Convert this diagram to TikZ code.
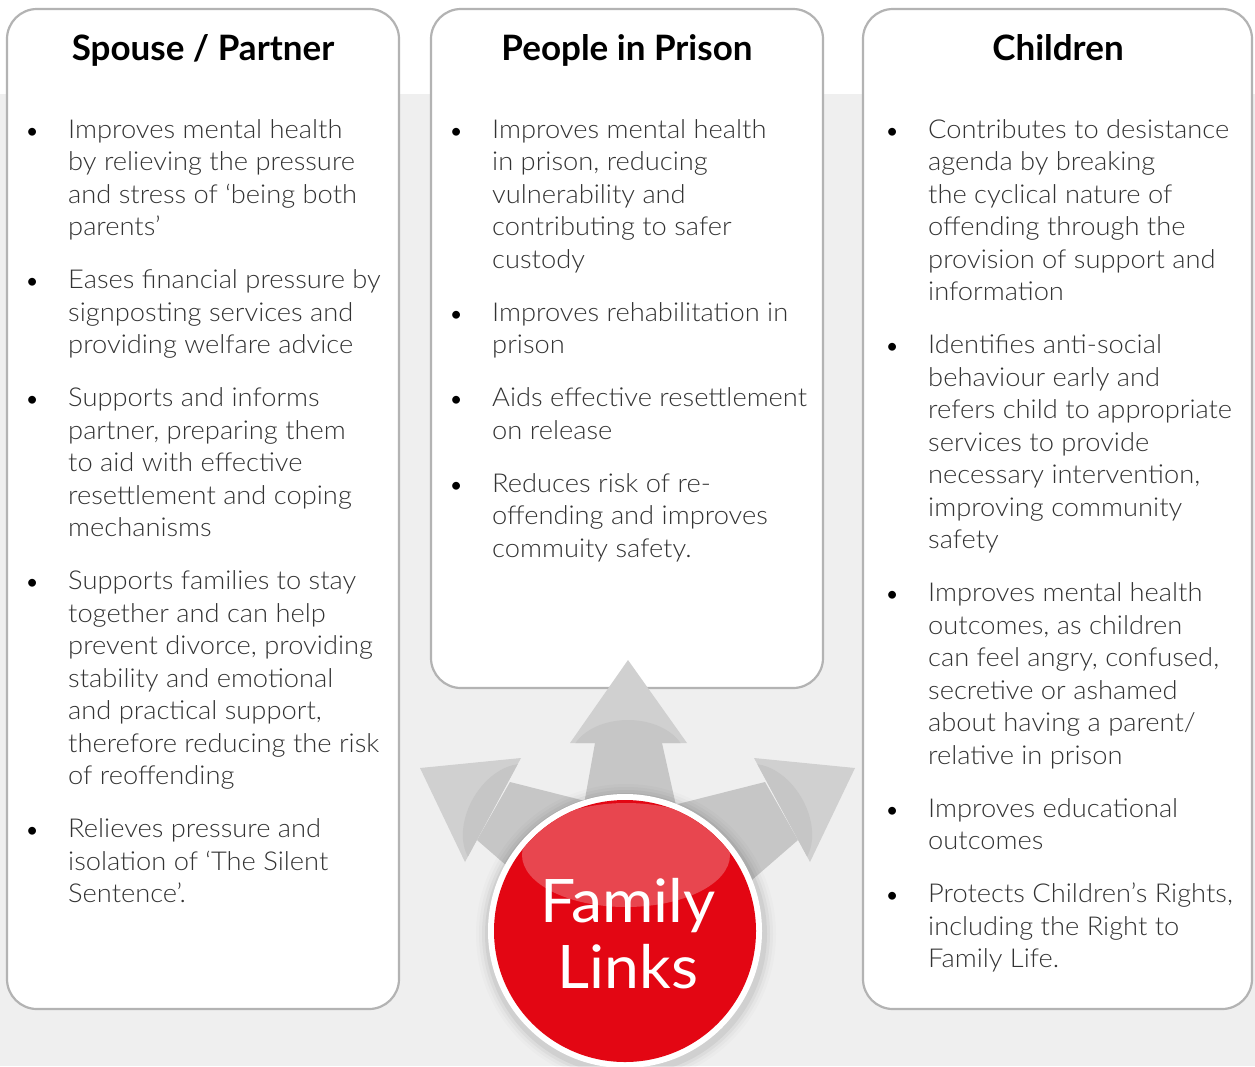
\documentclass[tikz,border=0pt]{standalone}
\usepackage{fontspec}
\setmainfont{Lato}
\newfontfamily\lightfont{Lato Light}[FakeStretch=1.05]
\newfontfamily\hubfont{Lato}[FakeStretch=1.04]

\definecolor{bggray}{HTML}{EFEFEF}
\definecolor{boxline}{HTML}{B3B3B3}
\definecolor{bodytext}{HTML}{333333}
\definecolor{arrowhead}{HTML}{D0D0D0}
\definecolor{arrowbody}{HTML}{C6C6C6}
\definecolor{flred}{HTML}{E30613}
\definecolor{flshine}{HTML}{E8464F}

% bullet list with hand-set line breaks
\newcommand{\lbul}{\makebox[42pt][l]{\normalfont\fontsize{21}{21}\selectfont\color{black}\textbullet}}
\newcommand{\itemlist}[1]{{\lightfont\fontsize{26}{32.5}\selectfont
  \begin{tabular}[t]{@{}l@{}l@{}}#1\end{tabular}}}
\newcommand{\gap}{\\[20.5pt]}

\begin{document}
\begin{tikzpicture}[x=1pt,y=-1pt,
  panel/.style={draw=boxline, line width=2.2pt, fill=white, rounded corners=30pt},
  heading/.style={font=\bfseries\fontsize{35}{40}\selectfont, text=black, inner sep=0pt, anchor=base},
  bullets/.style={anchor=base west, inner sep=0pt, text=bodytext},
  headcol/.style={fill=arrowhead},
  bodycol/.style={fill=arrowbody}]

\useasboundingbox (0,0) rectangle (1255,1066);
\clip (0,0) rectangle (1255,1066);

% background bands
\fill[white] (0,0) rectangle (1255,94);
\fill[bggray] (0,94) rectangle (1255,1066);

% three panels
\draw[panel] (7,9) rectangle (399,1009);
\draw[panel] (431,9) rectangle (823,688);
\draw[panel] (863,9) rectangle (1252,1009);

% headings
\node[heading] (hspouse) at (203,60) {Spouse / Partner};
\node[heading] (hprison) at (627,60) {People in Prison};
\node[heading] (hchild) at (1058,60) {Children};

% lists
\node[bullets] (lspouse) at (26,138) {\itemlist{%
\lbul & Improves mental health\\
 & by relieving the pressure\\
 & and stress of ‘being both\\
 & parents’\gap
\lbul & Eases financial pressure by\\
 & signposting services and\\
 & providing welfare advice\gap
\lbul & Supports and informs\\
 & partner, preparing them\\
 & to aid with effective\\
 & resettlement and coping\\
 & mechanisms\gap
\lbul & Supports families to stay\\
 & together and can help\\
 & prevent divorce, providing\\
 & stability and emotional\\
 & and practical support,\\
 & therefore reducing the risk\\
 & of reoffending\gap
\lbul & Relieves pressure and\\
 & isolation of ‘The Silent\\
 & Sentence’.}};

\node[bullets] (lprison) at (450,138) {\itemlist{%
\lbul & Improves mental health\\
 & in prison, reducing\\
 & vulnerability and\\
 & contributing to safer\\
 & custody\gap
\lbul & Improves rehabilitation in\\
 & prison\gap
\lbul & Aids effective resettlement\\
 & on release\gap
\lbul & Reduces risk of re-\\
 & offending and improves\\
 & commuity safety.}};

\node[bullets] (lchild) at (886,138) {\itemlist{%
\lbul & Contributes to desistance\\
 & agenda by breaking\\
 & the cyclical nature of\\
 & offending through the\\
 & provision of support and\\
 & information\gap
\lbul & Identifies anti-social\\
 & behaviour early and\\
 & refers child to appropriate\\
 & services to provide\\
 & necessary intervention,\\
 & improving community\\
 & safety\gap
\lbul & Improves mental health\\
 & outcomes, as children\\
 & can feel angry, confused,\\
 & secretive or ashamed\\
 & about having a parent/\\
 & relative in prison\gap
\lbul & Improves educational\\
 & outcomes\gap
\lbul & Protects Children’s Rights,\\
 & including the Right to\\
 & Family Life.}};

% up arrow
\fill[bodycol] (595,743) -- (662,743) -- (677,810) -- (583,810) -- cycle;
\fill[headcol] (628,660) -- (687,743) -- (570,743) -- cycle;
\begin{scope}
  \clip (628,660) -- (687,743) -- (570,743) -- cycle;
  \fill[bodycol] (628,760) ellipse [x radius=58, y radius=40];
\end{scope}

% left arrow
\fill[bodycol] (510,782) -- (605,806) -- (530,886) -- (477,840) -- cycle;
\fill[headcol] (420,768) -- (521,758) -- (465,862) -- cycle;
\begin{scope}
  \clip (420,768) -- (521,758) -- (465,862) -- cycle;
  \fill[bodycol, rotate around={60:(508,818)}] (508,818) ellipse [x radius=58, y radius=40];
\end{scope}

% right arrow
\fill[bodycol] (765,782) -- (670,806) -- (745,886) -- (798,840) -- cycle;
\fill[headcol] (855,768) -- (754,758) -- (810,862) -- cycle;
\begin{scope}
  \clip (855,768) -- (754,758) -- (810,862) -- cycle;
  \fill[bodycol, rotate around={-60:(767,818)}] (767,818) ellipse [x radius=58, y radius=40];
\end{scope}

% hub shadow
\foreach \r/\o in {150/0.015,147/0.025,144/0.035,141/0.05} {
  \fill[black, opacity=\o] (626,934) circle (\r);
}

% hub
\node[circle, fill=white, minimum size=274pt, inner sep=0pt] (hub) at (625,931) {};
\fill[flred] (hub.center) circle (131);
\begin{scope}
  \clip (hub.center) circle (131);
  \fill[flshine] (626,855) ellipse [x radius=104, y radius=52];
\end{scope}
\node[anchor=base, inner sep=0pt, text=white, font=\hubfont\fontsize{60}{66}\selectfont] (hubtext) at (628,922)
  {\begin{tabular}[t]{@{}c@{}}Family\\Links\end{tabular}};

\end{tikzpicture}
\end{document}
